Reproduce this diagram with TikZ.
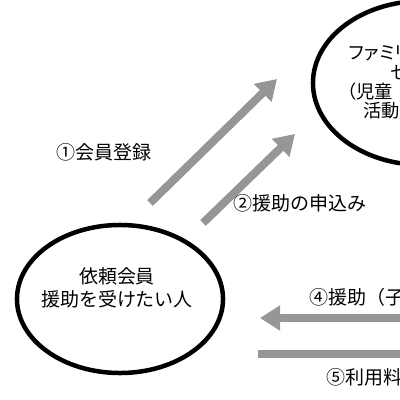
\documentclass[tikz,border=0pt]{standalone}
\usepackage{fontspec}
\setmainfont{Noto Sans CJK JP}
\newfontfamily\propjp[RawFeature=+palt]{Noto Sans CJK JP}
\usetikzlibrary{shapes.geometric,arrows.meta}
\definecolor{flowgray}{RGB}{150,150,150}

\begin{document}
\begin{tikzpicture}[x=0.025cm, y=-0.025cm, font=\fontsize{13.5}{16}\selectfont,
        member/.style={draw, ellipse, line width=3.2pt, inner sep=0pt},
        centertxt/.style={anchor=west, inner sep=0pt, font=\propjp\fontsize{13}{15}\selectfont},
        flow/.style={draw=flowgray, line width=5.7pt, -{Triangle[length=0.5cm, width=0.6cm]}},
        band/.style={draw=flowgray, line width=5.7pt}]
        \useasboundingbox (0, 0) rectangle (400, 400);
        \clip (0, 0) rectangle (400, 400);

        % Members
        \node[member, minimum width=5.15cm, minimum height=3.7cm] (irai) at (120, 299) {};
        \node[align=center, font=\fontsize{13.5}{16.4}\selectfont] (iraitxt) at (117, 288) {依頼会員\\援助を受けたい人};
        \node[member, minimum width=5.5cm, minimum height=4.1cm] (center) at (423, 83) {};
        \node[centertxt] (fs1) at (349, 53) {ファミリ};
        \node[centertxt] (fs2) at (390, 73) {セ};
        \node[centertxt] (fs3) at (347, 92) {（児童};
        \node[centertxt] (fs4) at (363, 111) {活動};

        % Arrow ends
        \coordinate (a1s) at (150, 203);
        \coordinate (a1e) at (277, 79);
        \coordinate (a2s) at (203, 223);
        \coordinate (a2e) at (295, 134);
        \coordinate (a4s) at (405, 318);
        \coordinate (a4e) at (260, 318);
        \coordinate (a5s) at (258, 354);
        \coordinate (a5e) at (405, 354);

        \draw[flow] (a1s) -- (a1e);
        \draw[flow] (a2s) -- (a2e);
        \draw[flow] (a4s) -- (a4e);
        \draw[band] (a5s) -- (a5e);

        \node (l1) at (104, 152) {①会員登録};
        \node[anchor=west] (l2) at (229, 203) {②援助の申込み};
        \node[anchor=west] (l4) at (305, 297) {④援助（子};
        \node[anchor=west] (l5) at (322, 377) {⑤利用料};
    \end{tikzpicture}
\end{document}
